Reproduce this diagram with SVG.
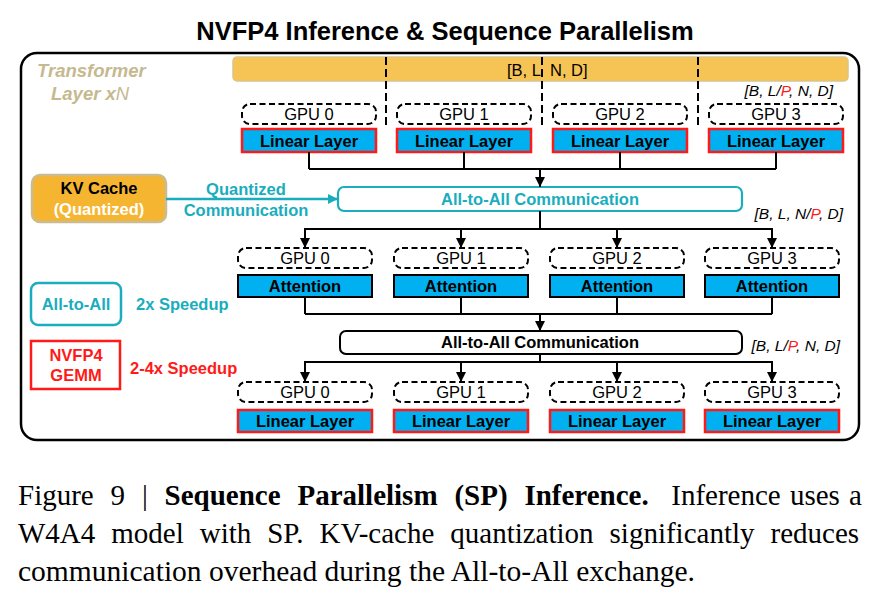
<svg xmlns="http://www.w3.org/2000/svg" width="879" height="598" viewBox="0 0 879 598">
<defs>
<marker id="ah" viewBox="0 0 10 10" refX="10" refY="5" markerWidth="10" markerHeight="10" markerUnits="userSpaceOnUse" orient="auto"><path d="M0,0 L10,5 L0,10 z" fill="#000"/></marker>
<marker id="aht" viewBox="0 0 10 10" refX="10" refY="5" markerWidth="10" markerHeight="10" markerUnits="userSpaceOnUse" orient="auto"><path d="M0,0 L10,5 L0,10 z" fill="#1AADBE"/></marker>
<style>
text{font-family:"Liberation Sans",Arial,sans-serif}
.b{font-weight:bold;font-size:16.5px}
.c{text-anchor:middle}
.gpu{fill:#fff;stroke:#000;stroke-width:2;stroke-dasharray:6 3.5}
.gt{font-size:16.5px;text-anchor:middle}
.lin{fill:#00B0F0;stroke:#FF1A1A;stroke-width:2.5}
.att{fill:#00B0F0;stroke:#000;stroke-width:2}
.ln{fill:none;stroke:#000;stroke-width:2}
.dim{font-size:15.5px;font-style:italic}
.teal{fill:#1AADBE}
.red{fill:#FF1A1A}
.cap{font-family:"Liberation Serif","Times New Roman",serif;font-size:29px}
</style>
</defs>
<text x="445" y="40" class="c" style="font-size:25.5px;font-weight:bold">NVFP4 Inference &amp; Sequence Parallelism</text>
<rect x="21" y="53" width="838" height="387" rx="16" fill="#fff" stroke="#000" stroke-width="2.5"/>
<g id="layerlabel">
<text x="37" y="77" style="font-size:18.5px;font-weight:bold;font-style:italic;fill:#C5B98F">Transformer</text>
<text x="51" y="100" style="font-size:18.5px;font-weight:bold;font-style:italic;fill:#C5B98F">Layer x<tspan style="font-weight:normal">N</tspan></text>
</g>
<g id="seqbar">
<rect x="233" y="57" width="615" height="24" rx="4" fill="#F6C355" stroke="#DCC38A" stroke-width="1.5"/>
<text x="507" y="76" style="font-size:16.5px">[B, L</text>
<text x="550" y="76" style="font-size:16.5px">N, D]</text>
</g>
<g id="splits" stroke="#000" stroke-width="2" stroke-dasharray="8 4">
<line x1="386" y1="57" x2="386" y2="127"/>
<line x1="542" y1="57" x2="542" y2="127"/>
<line x1="698" y1="57" x2="698" y2="127"/>
</g>
<text x="833" y="96" class="dim" style="text-anchor:end">[B, L/<tspan class="red">P</tspan>, N, D]</text>
<g id="row1">
<g id="gpu0a"><rect class="gpu" x="242" y="104" width="134" height="20" rx="8"/><text class="gt" x="309" y="120">GPU 0</text></g>
<g id="gpu1a"><rect class="gpu" x="397" y="104" width="134" height="20" rx="8"/><text class="gt" x="464" y="120">GPU 1</text></g>
<g id="gpu2a"><rect class="gpu" x="553" y="104" width="134" height="20" rx="8"/><text class="gt" x="620" y="120">GPU 2</text></g>
<g id="gpu3a"><rect class="gpu" x="709" y="104" width="134" height="20" rx="8"/><text class="gt" x="776" y="120">GPU 3</text></g>
<g id="lin0a"><rect class="lin" x="242" y="129" width="134" height="23"/><text class="b c" x="309" y="147">Linear Layer</text></g>
<g id="lin1a"><rect class="lin" x="397" y="129" width="134" height="23"/><text class="b c" x="464" y="147">Linear Layer</text></g>
<g id="lin2a"><rect class="lin" x="553" y="129" width="134" height="23"/><text class="b c" x="620" y="147">Linear Layer</text></g>
<g id="lin3a"><rect class="lin" x="709" y="129" width="134" height="23"/><text class="b c" x="776" y="147">Linear Layer</text></g>
</g>
<g id="kvcache">
<rect x="32" y="175" width="134" height="47" rx="8" fill="#F5B531" stroke="#CBBB90" stroke-width="2.5"/>
<text class="b c" x="99" y="194">KV Cache</text>
<text class="b c" x="99" y="215" style="fill:#fff">(Quantized)</text>
</g>
<g id="a2a1">
<rect x="338" y="187" width="404" height="24" rx="6" fill="#fff" stroke="#1AADBE" stroke-width="2.2"/>
<text class="b c teal" x="540" y="205">All-to-All Communication</text>
</g>
<text x="843" y="219" class="dim" style="text-anchor:end">[B, L, N/<tspan class="red">P</tspan>, D]</text>
<g id="row2">
<g id="gpu0b"><rect class="gpu" x="238" y="248" width="134" height="20" rx="8"/><text class="gt" x="305" y="264">GPU 0</text></g>
<g id="gpu1b"><rect class="gpu" x="394" y="248" width="134" height="20" rx="8"/><text class="gt" x="461" y="264">GPU 1</text></g>
<g id="gpu2b"><rect class="gpu" x="550" y="248" width="134" height="20" rx="8"/><text class="gt" x="617" y="264">GPU 2</text></g>
<g id="gpu3b"><rect class="gpu" x="705" y="248" width="134" height="20" rx="8"/><text class="gt" x="772" y="264">GPU 3</text></g>
<g id="att0"><rect class="att" x="238" y="275" width="134" height="22"/><text class="b c" x="305" y="292">Attention</text></g>
<g id="att1"><rect class="att" x="394" y="275" width="134" height="22"/><text class="b c" x="461" y="292">Attention</text></g>
<g id="att2"><rect class="att" x="550" y="275" width="134" height="22"/><text class="b c" x="617" y="292">Attention</text></g>
<g id="att3"><rect class="att" x="705" y="275" width="134" height="22"/><text class="b c" x="772" y="292">Attention</text></g>
</g>
<g id="a2a2">
<rect x="340" y="331" width="402" height="23" rx="6" fill="#fff" stroke="#000" stroke-width="2"/>
<text class="b c" x="540" y="348">All-to-All Communication</text>
</g>
<text x="840" y="351" class="dim" style="text-anchor:end">[B, L/<tspan class="red">P</tspan>, N, D]</text>
<g id="row3">
<g id="gpu0c"><rect class="gpu" x="238" y="382" width="134" height="20" rx="8"/><text class="gt" x="305" y="398">GPU 0</text></g>
<g id="gpu1c"><rect class="gpu" x="394" y="382" width="134" height="20" rx="8"/><text class="gt" x="461" y="398">GPU 1</text></g>
<g id="gpu2c"><rect class="gpu" x="550" y="382" width="134" height="20" rx="8"/><text class="gt" x="617" y="398">GPU 2</text></g>
<g id="gpu3c"><rect class="gpu" x="705" y="382" width="134" height="20" rx="8"/><text class="gt" x="772" y="398">GPU 3</text></g>
<g id="lin0c"><rect class="lin" x="238" y="410" width="134" height="22"/><text class="b c" x="305" y="427">Linear Layer</text></g>
<g id="lin1c"><rect class="lin" x="394" y="410" width="134" height="22"/><text class="b c" x="461" y="427">Linear Layer</text></g>
<g id="lin2c"><rect class="lin" x="550" y="410" width="134" height="22"/><text class="b c" x="617" y="427">Linear Layer</text></g>
<g id="lin3c"><rect class="lin" x="705" y="410" width="134" height="22"/><text class="b c" x="772" y="427">Linear Layer</text></g>
</g>
<g id="legend">
<rect x="31" y="283" width="90" height="42" rx="7" fill="#fff" stroke="#1AADBE" stroke-width="2.5"/>
<text class="b c teal" x="76" y="310">All-to-All</text>
<text class="b teal" x="136" y="310">2x Speedup</text>
<rect x="31" y="341" width="89" height="48" fill="#fff" stroke="#FF1A1A" stroke-width="2.5"/>
<text class="b c red" x="76" y="361">NVFP4</text>
<text class="b c red" x="76" y="381">GEMM</text>
<text class="b red" x="130" y="374">2-4x Speedup</text>
</g>
<g id="connectors">
<path class="ln" d="M309,152 V169 M464,152 V169 M620,152 V169 M776,152 V169 M309,169 H776"/>
<line class="ln" x1="540" y1="169" x2="540" y2="187" marker-end="url(#ah)"/>
<line x1="166" y1="199" x2="338" y2="199" stroke="#1AADBE" stroke-width="2.5" marker-end="url(#aht)"/>
<text class="b c teal" x="246" y="195">Quantized</text>
<text class="b c teal" x="246" y="216">Communication</text>
<path class="ln" d="M540,211 V229 M305,229 H772"/>
<line class="ln" x1="305" y1="228" x2="305" y2="248" marker-end="url(#ah)"/>
<line class="ln" x1="461" y1="228" x2="461" y2="248" marker-end="url(#ah)"/>
<line class="ln" x1="617" y1="228" x2="617" y2="248" marker-end="url(#ah)"/>
<line class="ln" x1="772" y1="228" x2="772" y2="248" marker-end="url(#ah)"/>
<path class="ln" d="M305,297 V314 M461,297 V314 M617,297 V314 M772,297 V314 M305,314 H772"/>
<line class="ln" x1="540" y1="314" x2="540" y2="331" marker-end="url(#ah)"/>
<path class="ln" d="M540,354 V362 M305,362 H772"/>
<line class="ln" x1="305" y1="361" x2="305" y2="382" marker-end="url(#ah)"/>
<line class="ln" x1="461" y1="361" x2="461" y2="382" marker-end="url(#ah)"/>
<line class="ln" x1="617" y1="361" x2="617" y2="382" marker-end="url(#ah)"/>
<line class="ln" x1="772" y1="361" x2="772" y2="382" marker-end="url(#ah)"/>
</g>
<g id="caption">
<text class="cap" x="18" y="505" style="word-spacing:9.6px">Figure 9 | <tspan font-weight="bold">Sequence Parallelism (SP) Inference.</tspan></text>
<text class="cap" x="862" y="505" style="text-anchor:end;word-spacing:2px">Inference uses a</text>
<text class="cap" x="18" y="543" style="word-spacing:8.7px">W4A4 model with SP. KV-cache quantization significantly reduces</text>
<text class="cap" x="18" y="581" textLength="677" lengthAdjust="spacingAndGlyphs">communication overhead during the All-to-All exchange.</text>
</g>
</svg>
